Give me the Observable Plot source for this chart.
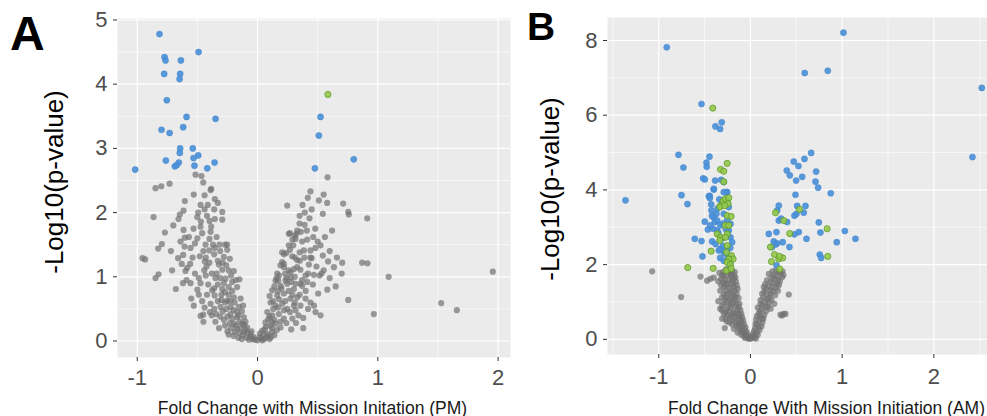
<!DOCTYPE html>
<html><head><meta charset="utf-8">
<script src="https://cdn.jsdelivr.net/npm/d3@7"></script>
<script src="https://cdn.jsdelivr.net/npm/@observablehq/plot@0.6"></script>
<style>
html,body{margin:0;padding:0;background:#fff}
body{width:987px;height:416px;overflow:hidden;position:relative;font-family:"Liberation Sans",Arial,sans-serif}
#a,#b,#lbl{position:absolute;top:0}
#a{left:0}#b{left:520px}#lbl{left:0;pointer-events:none}
</style></head><body>
<div id="a"></div><div id="b"></div>
<svg id="lbl" width="987" height="416"><text x="10" y="50" font-size="48" font-weight="bold" font-family="Liberation Sans Narrow, Liberation Sans, Arial" fill="#000">A</text><text x="527" y="40" font-size="39" font-weight="bold" font-family="Liberation Sans Narrow, Liberation Sans, Arial" fill="#000">B</text></svg>
<script>
// ---------- Panel A (PM) ----------
const aTicksX = [-1, 0, 1, 2];
const aTicksY = [0, 1, 2, 3, 4, 5];
const aMinorX = [-0.5, 0.5, 1.5];
const aMinorY = [0.5, 1.5, 2.5, 3.5, 4.5];
const aXLabel = "Fold Change with Mission Initation (PM)";
const yLabel = "-Log10(p-value)";

const aBlue = [[-0.815,4.78],[-0.773,4.42],[-0.765,4.37],[-0.637,4.37],[-0.49,4.50],[-0.776,4.16],[-0.643,4.16],[-0.648,4.08],[-0.754,3.75],[-0.59,3.49],[-0.349,3.46],[-0.798,3.29],[-0.618,3.33],[-0.731,3.24],[-0.643,3.00],[-0.538,3.00],[-0.646,2.93],[-0.493,2.89],[-0.532,2.85],[-0.762,2.81],[-0.654,2.78],[-0.357,2.78],[-0.687,2.72],[-0.671,2.74],[-0.524,2.73],[-0.418,2.69],[-1.017,2.67],[0.524,3.49],[0.51,3.20],[0.477,2.69],[0.80,2.83]];
const aGreen = [[0.585,3.84]];
const aGreyLeft = [[-0.515,2.59],[-0.466,2.57],[-0.451,2.47],[-0.848,2.38],[-0.80,2.41],[-0.731,2.45],[-0.385,2.37],[-0.39,2.35],[-0.53,2.28],[-0.44,2.27],
[-0.864,1.93],[-0.77,1.69],[-0.795,1.51],[-0.826,1.44],[-0.956,1.29],[-0.934,1.27],[-0.848,0.98],[-0.823,1.04],[-0.679,0.81],
[-0.66,1.29],[-0.618,1.34],[-0.607,1.47],[-0.604,1.61],[-0.615,1.73],[-0.657,1.90],[-0.646,1.97],[-0.615,2.03],[-0.604,2.18],
[-0.474,2.12],[-0.413,2.12],[-0.355,2.21],[-0.33,2.15],[-0.293,2.01],[-0.293,1.89],[-0.355,1.90],[-0.399,1.87],[-0.471,1.86],[-0.493,2.0],[-0.501,1.93],[-0.474,1.78],[-0.532,1.75],[-0.385,1.78],[-0.399,1.59],[-0.432,1.50],[-0.401,1.41],[-0.355,1.45],[-0.316,1.50],[-0.252,1.50],[-0.557,1.45],[-0.54,1.30],[-0.48,1.32],[-0.438,1.24],[-0.585,1.14],[-0.599,1.09],[-0.59,0.95],[-0.557,0.90],[-0.488,0.98],[-0.474,0.90],[-0.443,1.10],[-0.424,1.16],[-0.551,0.66],[-0.488,0.72],[-0.474,0.39],[-0.451,0.41],[-0.377,0.79],[-0.357,0.71],[-0.39,0.58],[-0.396,0.45],[-0.343,0.42],
[-0.33,1.25],[-0.321,1.19],[-0.293,1.11],[-0.28,1.31],[-0.252,1.42],[-0.23,1.28],[-0.197,1.09],[-0.15,0.96],[-0.266,0.97],[-0.239,0.84],[-0.293,0.81],[-0.169,0.84],[-0.197,0.68],[-0.252,0.63],[-0.308,0.53],[-0.224,0.53],[-0.141,0.66],[-0.155,0.53],[-0.224,0.42],[-0.169,0.37],[-0.114,0.37],[-0.197,0.27],[-0.127,0.27],[-0.086,0.21],[-0.169,0.19],[-0.114,0.14],[-0.058,0.11],[-0.031,0.06],[0.0,0.01],
[-0.36,1.35],[-0.34,1.05],[-0.31,0.98],[-0.28,0.90],[-0.26,1.18],[-0.22,1.02],[-0.21,0.92],[-0.18,0.95],[-0.33,0.88],[-0.30,0.72],[-0.27,0.76],[-0.24,0.72],[-0.21,0.78],[-0.19,0.60],[-0.27,0.60],[-0.33,0.62],[-0.36,0.50],[-0.29,0.46],[-0.26,0.50],[-0.20,0.48],[-0.17,0.45],[-0.13,0.46],[-0.25,0.38],[-0.21,0.35],[-0.28,0.33],[-0.15,0.30],[-0.10,0.30],[-0.23,0.28],[-0.18,0.24],[-0.14,0.20],[-0.22,0.20],[-0.10,0.17],[-0.08,0.13],[-0.15,0.12],[-0.12,0.09],[-0.06,0.07],[-0.09,0.05],[-0.04,0.03],[-0.02,0.02],[-0.07,0.02],[-0.05,0.15],[-0.11,0.25],[-0.16,0.40],[-0.12,0.55],[-0.23,0.62],[-0.30,0.64],[-0.35,0.98],[-0.38,1.05],[-0.40,1.22],[-0.37,1.50],[-0.34,1.62],[-0.31,1.40],[-0.27,1.50],[-0.29,1.22],[-0.24,1.10],[-0.43,1.02],[-0.41,0.88],[-0.36,0.82],[-0.42,0.72],[-0.46,0.62],[-0.44,0.52],[-0.31,0.38],[-0.35,0.30],[-0.38,0.40],[-0.27,0.24],[-0.32,0.20],[-0.25,0.15],[-0.19,0.14],[-0.2,0.08],[-0.16,0.05],[-0.13,0.03],[-0.24,0.10],[-0.43,1.30],[-0.45,1.40],[-0.39,1.70],[-0.42,1.95],[-0.44,2.05],[-0.36,2.05],[-0.50,1.60],[-0.52,1.52],[-0.46,1.68],[-0.57,1.62],[-0.63,1.20],[-0.52,1.05],[-0.56,1.20],[-0.64,1.55],[-0.70,1.80],[-0.72,1.40],[-0.71,1.10],[-0.50,0.80],[-0.53,0.55],[-0.45,0.30],[-0.62,0.90]];
const aGreyRight = [[0.582,2.55],[0.44,2.33],[0.55,2.28],[0.418,2.23],[0.51,2.19],[0.579,2.15],[0.247,2.11],[0.374,2.12],[0.712,2.14],[0.393,2.0],[0.543,1.98],[0.754,2.01],[0.759,1.97],[0.912,1.91],[0.432,1.91],[0.349,1.83],[0.391,1.81],[0.26,1.67],[0.324,1.67],[0.316,1.59],[0.371,1.55],[0.413,1.58],[0.463,1.62],[0.26,1.49],[0.297,1.49],[0.205,1.38],[0.238,1.37],[0.385,1.41],[0.44,1.41],[0.482,1.45],[0.524,1.49],[0.288,1.32],[0.33,1.26],[0.352,1.25],[0.543,1.33],[0.449,1.29],[0.587,1.24],[0.704,1.22],[0.635,1.15],[0.87,1.22],[0.914,1.21],[0.191,1.18],[0.219,1.20],[0.302,1.12],[0.357,1.11],[0.427,1.19],[0.49,1.16],[1.09,1.00],[1.956,1.08],[0.468,1.03],[0.515,1.02],[0.532,1.05],[0.158,0.98],[0.172,0.94],[0.233,0.94],[0.274,0.99],[0.316,0.89],[0.399,1.02],[0.413,0.92],[0.371,0.86],[0.504,0.74],[0.754,0.64],[0.482,0.45],[0.524,0.40],[0.967,0.42],[1.527,0.59],[1.657,0.48],[0.399,0.66],[0.357,0.55],[0.316,0.48],
[0.164,1.05],[0.269,1.68],[0.31,1.64],[0.33,1.72],[0.205,1.23],[0.219,1.15],[0.274,1.07],[0.33,1.15],[0.15,0.94],[0.191,0.86],[0.247,0.89],[0.302,0.81],[0.357,0.89],[0.122,0.79],[0.164,0.71],[0.219,0.74],[0.274,0.66],[0.33,0.68],[0.108,0.60],[0.15,0.55],[0.205,0.58],[0.247,0.50],[0.302,0.55],[0.081,0.45],[0.122,0.40],[0.177,0.42],[0.219,0.35],[0.066,0.29],[0.108,0.24],[0.15,0.27],[0.191,0.21],[0.039,0.16],[0.081,0.11],[0.122,0.14],[0.019,0.06],[0.053,0.03],
[0.10,0.70],[0.13,0.62],[0.18,0.65],[0.23,0.62],[0.26,0.78],[0.29,0.72],[0.20,0.82],[0.17,0.78],[0.14,0.85],[0.24,0.98],[0.28,0.92],[0.31,1.00],[0.26,1.10],[0.23,1.05],[0.18,1.02],[0.13,0.50],[0.17,0.52],[0.22,0.48],[0.27,0.45],[0.10,0.38],[0.14,0.33],[0.19,0.30],[0.24,0.28],[0.07,0.22],[0.12,0.20],[0.16,0.17],[0.09,0.08],[0.05,0.10],[0.03,0.04],[0.07,0.05],[0.11,0.06],[0.14,0.09],[0.04,0.01],[0.10,0.03],[0.02,0.12],[0.06,0.18],[0.09,0.34],[0.12,0.30],[0.34,0.40],[0.38,0.36],[0.29,0.35],[0.31,0.60],[0.35,0.72],[0.40,0.78],[0.44,0.60],[0.42,0.50],[0.37,0.95],[0.42,1.05],[0.46,0.88],[0.44,1.30],[0.39,1.30],[0.35,1.38],[0.31,1.30],[0.27,1.42],[0.29,1.58],[0.36,1.70],[0.41,1.72],[0.48,1.75],[0.50,1.55],[0.56,1.62],[0.60,1.40],[0.55,1.10],[0.60,0.98],[0.65,0.85],[0.58,0.80],[0.47,0.55],[0.22,1.35],[0.35,1.95],[0.45,2.05],[0.62,1.72],[0.66,1.30],[0.70,1.05],[0.38,0.20],[0.28,0.18],[0.32,0.28]];

// ---------- Panel B (AM) ----------
const bTicksX = [-1, 0, 1, 2];
const bTicksY = [0, 2, 4, 6, 8];
const bMinorX = [-1.5, -0.5, 0.5, 1.5, 2.5];
const bMinorY = [1, 3, 5, 7];
const bXLabel = "Fold Change With Mission Initiation (AM)";

const bBlue = [[-0.913,7.82],[-0.534,6.30],[-0.382,5.70],[-0.313,5.81],[-0.331,5.63],[-0.785,4.94],[-0.731,4.60],[-0.447,4.89],[-0.48,4.73],[-0.477,4.62],[-0.516,4.31],[-0.498,4.28],[-0.385,4.25],[-0.40,4.01],[-0.254,3.94],[-0.752,3.86],[-0.444,3.84],[-1.363,3.72],
[1.014,8.21],[0.592,7.13],[0.843,7.19],[2.523,6.73],[2.421,4.88],[0.662,4.99],[0.472,4.76],[0.589,4.83],[0.523,4.64],[0.396,4.52],[0.429,4.39],[0.564,4.35],[0.498,4.25],[0.716,4.49],[0.709,4.22],[0.738,4.06],[0.491,3.87],[0.876,3.91],
[0.309,3.58],[0.509,3.57],[0.60,3.57],[0.291,3.45],[0.48,3.31],[0.502,3.36],[0.581,3.39],[0.309,3.18],[0.334,3.23],[0.40,3.14],[0.20,2.82],[0.284,2.87],[0.48,2.81],[0.527,2.87],[0.611,2.69],[0.745,3.13],[0.763,2.86],[1.029,2.90],[0.941,2.60],[1.145,2.69],[0.254,2.62],[0.291,2.57],[0.352,2.60],[0.236,2.47],[0.273,2.54],[0.425,2.47],[0.284,1.98],[0.756,2.27],[0.771,2.18],
[-0.687,3.62],[-0.607,2.69],[-0.534,2.63],[-0.523,2.22],[-0.498,3.15],[-0.454,3.83],[-0.443,3.78],[-0.428,3.61],[-0.465,2.94],[-0.40,4.03],[-0.425,3.45],[-0.40,3.27],[-0.371,3.36],[-0.389,3.14],[-0.363,3.18],[-0.407,2.96],[-0.363,2.91],[-0.418,2.62],[-0.345,2.38],[-0.327,2.42],[-0.291,2.33],[-0.262,3.94],[-0.254,3.72],[-0.236,3.54],[-0.291,3.36],[-0.254,3.18],[-0.218,3.09],[-0.236,2.91],[-0.218,2.73],[-0.20,2.60],[-0.254,2.38],[-0.273,2.29],[-0.309,3.63],[-0.291,3.94],[-0.32,4.27],[-0.291,4.21],
[-0.35,2.85],[-0.33,3.05],[-0.31,2.70],[-0.38,2.55],[-0.30,2.50],[-0.22,2.45],[-0.24,2.20],[-0.33,2.18],[-0.36,3.50],[-0.34,3.75],[-0.30,3.10],[-0.27,2.95],[-0.42,3.30],[-0.44,3.05],[-0.29,2.10],[-0.22,2.05]];
const bGreen = [[-0.411,6.19],[-0.254,4.71],[-0.327,4.55],[-0.291,4.50],[-0.291,4.22],
[-0.684,1.92],[-0.429,2.36],[-0.407,1.90],[-0.327,3.58],[-0.298,3.71],[-0.273,3.76],[-0.236,3.79],[-0.243,3.63],[-0.334,3.54],[-0.28,3.58],[-0.254,3.31],[-0.211,3.29],[-0.273,3.05],[-0.236,3.05],[-0.363,2.82],[-0.327,2.73],[-0.254,2.82],[-0.273,2.73],[-0.334,2.65],[-0.254,2.51],[-0.262,2.33],[-0.207,2.24],[-0.189,2.15],[-0.236,2.15],[-0.254,2.06],[-0.218,2.0],[-0.262,1.84],[-0.211,1.89],
[0.534,3.48],[0.273,3.39],[0.363,3.18],[0.429,2.83],[0.836,2.96],[0.218,2.47],[0.262,2.27],[0.309,2.15],[0.352,2.18],[0.316,2.22],[0.229,2.08],[0.32,1.88],[0.843,2.22]];
const bGreyLeft = [[-1.072,1.82],[-0.756,1.13],[-0.545,1.68],[-0.473,1.57],[-0.436,1.62],[-0.40,1.65],[-0.291,0.95],[-0.291,0.68],[-0.273,0.55],[-0.309,0.90],[-0.309,0.55],
[-0.218,1.75],[-0.164,1.66],[-0.273,1.49],[-0.182,1.40],[-0.254,1.22],[-0.164,1.13],[-0.218,0.95],[-0.127,0.86],[-0.182,0.68],[-0.091,0.59],[-0.127,0.41],[-0.055,0.32],[-0.073,0.19],[-0.018,0.06],
[-0.30,1.80],[-0.27,1.85],[-0.24,1.82],[-0.20,1.84],[-0.17,1.80],[-0.29,1.70],[-0.25,1.72],[-0.21,1.68],[-0.18,1.72],[-0.32,1.62],[-0.28,1.60],[-0.24,1.58],[-0.20,1.60],[-0.16,1.55],[-0.30,1.52],[-0.26,1.45],[-0.22,1.50],[-0.19,1.48],[-0.15,1.45],[-0.29,1.40],[-0.24,1.38],[-0.21,1.32],[-0.17,1.30],[-0.27,1.30],[-0.29,1.20],[-0.22,1.25],[-0.19,1.20],[-0.15,1.22],[-0.26,1.12],[-0.23,1.08],[-0.20,1.12],[-0.17,1.05],[-0.13,1.10],[-0.28,1.05],[-0.25,1.00],[-0.19,0.98],[-0.15,0.95],[-0.24,0.88],[-0.21,0.85],[-0.17,0.88],[-0.14,0.80],[-0.11,0.78],[-0.26,0.80],[-0.23,0.75],[-0.19,0.72],[-0.16,0.70],[-0.13,0.68],[-0.21,0.62],[-0.17,0.58],[-0.14,0.55],[-0.11,0.52],[-0.08,0.50],[-0.19,0.50],[-0.16,0.45],[-0.13,0.40],[-0.10,0.44],[-0.07,0.40],[-0.15,0.35],[-0.12,0.30],[-0.09,0.28],[-0.06,0.25],[-0.11,0.22],[-0.08,0.18],[-0.05,0.14],[-0.10,0.12],[-0.04,0.08],[-0.07,0.08],[-0.03,0.03],[-0.06,0.04],[-0.01,0.01],[-0.09,0.35],[-0.12,0.62],[-0.10,0.68],[-0.22,0.58],[-0.25,0.65],[-0.27,0.72],[-0.31,0.78],[-0.33,0.82],[-0.35,1.02],[-0.31,1.12],[-0.33,1.30],[-0.32,1.45],[-0.35,1.55],[-0.31,1.72],[-0.34,1.78],[-0.26,1.88],[-0.22,1.78],[-0.18,1.62],[-0.14,1.35],[-0.12,0.95],[-0.20,0.40],[-0.23,0.45],[-0.26,0.48],[-0.28,0.30],[-0.18,0.28],[-0.14,0.18],[-0.02,0.10],[-0.04,0.20]];
const bGreyRight = [[0.20,1.75],[0.254,1.71],[0.309,1.80],[0.345,1.66],[0.218,1.53],[0.291,1.49],[0.145,1.40],[0.218,1.31],[0.127,1.22],[0.182,1.08],[0.109,0.95],[0.164,0.86],[0.091,0.68],[0.127,0.55],[0.055,0.41],[0.091,0.32],[0.029,0.15],[0.418,1.20],[0.327,0.66],[0.363,0.68],[0.345,0.64],[0.382,0.68],
[0.24,1.82],[0.28,1.85],[0.33,1.78],[0.26,1.62],[0.30,1.60],[0.23,1.65],[0.18,1.58],[0.25,1.50],[0.32,1.55],[0.20,1.42],[0.24,1.40],[0.28,1.38],[0.17,1.35],[0.22,1.22],[0.25,1.28],[0.15,1.28],[0.18,1.20],[0.21,1.12],[0.14,1.12],[0.11,1.05],[0.16,1.00],[0.20,0.98],[0.13,0.92],[0.08,0.85],[0.12,0.80],[0.17,0.75],[0.10,0.75],[0.07,0.62],[0.11,0.62],[0.15,0.65],[0.06,0.52],[0.09,0.48],[0.13,0.45],[0.05,0.30],[0.07,0.38],[0.10,0.25],[0.04,0.22],[0.07,0.18],[0.02,0.08],[0.05,0.10],[0.01,0.03],[0.04,0.04],[0.08,0.12],[0.06,0.02],[0.12,0.35],[0.14,0.55],[0.19,0.88],[0.23,1.05],[0.27,1.18],[0.30,1.30],[0.31,1.45],[0.35,1.82],[0.36,1.72],[0.29,1.70],[0.16,1.48],[0.26,0.95],[0.22,0.82]];

const FONT = "Liberation Sans, Arial, sans-serif";
const fmt = d => String(d);

function volcano(o) {
  const dotOpts = {x: d => d[0], y: d => d[1], r: 3.1};
  return Plot.plot({
    width: o.width, height: 416,
    marginLeft: o.mL, marginRight: o.mR, marginTop: o.mT, marginBottom: o.mB,
    x: {domain: o.xDomain}, y: {domain: o.yDomain},
    style: {fontFamily: FONT, background: "transparent", overflow: "visible"},
    marks: [
      Plot.frame({fill: "#ebebeb", stroke: null}),
      Plot.ruleX(o.minorX, {stroke: "#fff", strokeWidth: 0.6}),
      Plot.ruleY(o.minorY, {stroke: "#fff", strokeWidth: 0.6}),
      Plot.ruleX(o.ticksX, {stroke: "#fff", strokeWidth: 1.2}),
      Plot.ruleY(o.ticksY, {stroke: "#fff", strokeWidth: 1.2}),
      Plot.dot(o.grey, {...dotOpts, fill: "#727272", fillOpacity: 0.7, stroke: null}),
      Plot.dot(o.blue, {...dotOpts, fill: "#4a90d9", fillOpacity: 0.92, stroke: "#3f80c8", strokeWidth: 0.4}),
      Plot.dot(o.green, {...dotOpts, fill: "#95c94a", fillOpacity: 0.9, stroke: "#5f9a2b", strokeWidth: 0.8}),
      Plot.axisX({ticks: o.ticksX, tickFormat: fmt, tickSize: 4, tickPadding: o.xPad, fontSize: 22, stroke: "#333", fill: "#4d4d4d", label: null}),
      Plot.axisY({ticks: o.ticksY, tickFormat: fmt, tickSize: 4, tickPadding: 6, fontSize: 22, stroke: "#333", fill: "#4d4d4d", label: null}),
      Plot.text([yLabel], {frameAnchor: "left", dx: o.yDx, dy: o.yDy, rotate: -90, fontSize: 26, fill: "#000", textAnchor: "middle", lineAnchor: "middle"}),
      Plot.text([o.xLabel], {frameAnchor: "bottom", dx: o.xDx, dy: o.xDy, fontSize: 17.5, fill: "#1a1a1a", textAnchor: "middle", lineAnchor: "top"})
    ]
  });
}

document.getElementById("a").append(volcano({
  width: 520, mL: 117, mR: 10, mT: 18, mB: 59,
  xDomain: [-1.164, 2.103], yDomain: [-0.257, 5.023],
  ticksX: aTicksX, ticksY: aTicksY, minorX: aMinorX, minorY: aMinorY,
  grey: aGreyLeft.concat(aGreyRight), blue: aBlue, green: aGreen,
  xPad: 8, yDx: -63, yDy: -6, xLabel: aXLabel, xDx: -1.5, xDy: 44
}));
document.getElementById("b").append(volcano({
  width: 467, mL: 87, mR: 0, mT: 17, mB: 62,
  xDomain: [-1.559, 2.585], yDomain: [-0.407, 8.616],
  ticksX: bTicksX, ticksY: bTicksY, minorX: bMinorX, minorY: bMinorY,
  grey: bGreyLeft.concat(bGreyRight), blue: bBlue, green: bGreen,
  xPad: 10, yDx: -57, yDy: 3, xLabel: bXLabel, xDx: 29, xDy: 47
}));
</script>
</body></html>
